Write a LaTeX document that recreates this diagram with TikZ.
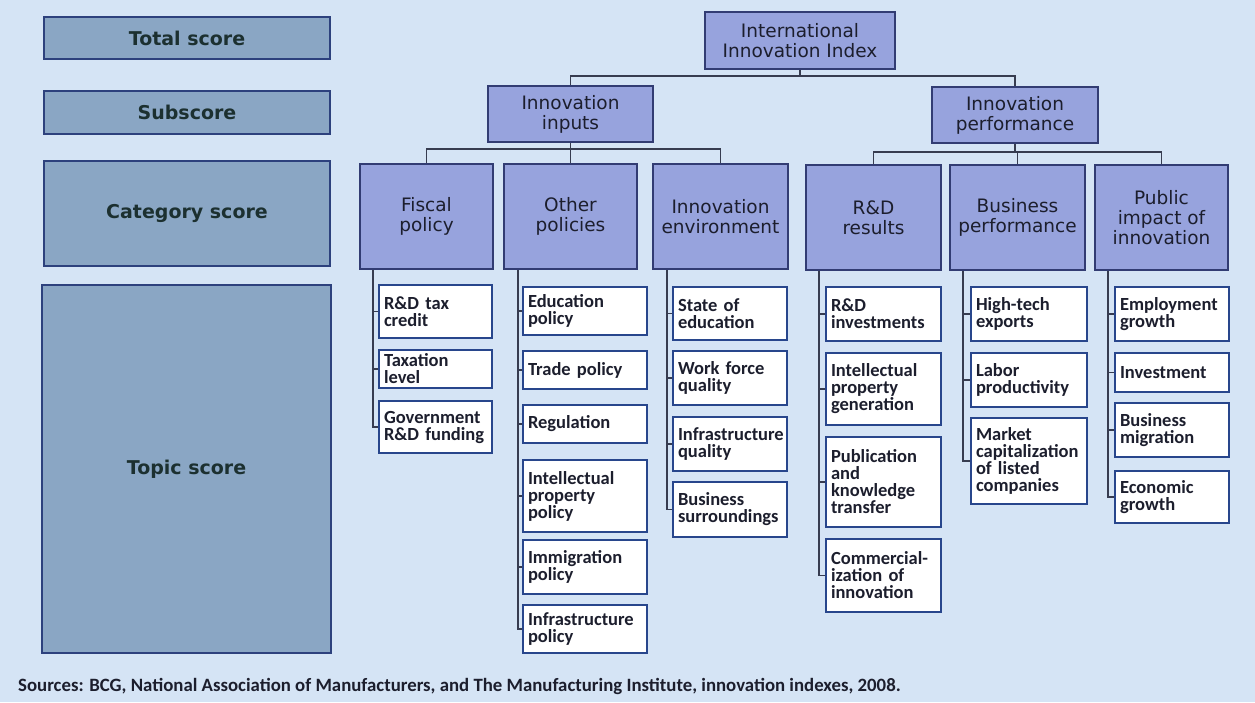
\documentclass[tikz,border=0pt]{standalone}
\usepackage{fontspec}
\setmainfont{DejaVu Sans}
\newfontfamily\carl{Carlito}
\definecolor{bgc}{RGB}{213,228,245}
\definecolor{catf}{RGB}{151,163,221}
\definecolor{catb}{RGB}{50,60,115}
\definecolor{legf}{RGB}{138,166,196}
\definecolor{legb}{RGB}{45,65,125}
\definecolor{tbord}{RGB}{40,70,140}
\definecolor{lnc}{RGB}{55,60,80}
\definecolor{txc}{RGB}{28,30,45}
\definecolor{legt}{RGB}{28,48,48}
\begin{document}
\begin{tikzpicture}[x=1pt,y=-1pt,
 leg/.style={draw=legb, fill=legf, line width=1.5pt, text=legt, font=\fontsize{19}{22}\selectfont\bfseries, inner sep=0pt},
 cat/.style={draw=catb, fill=catf, line width=1.6pt, text=txc, font=\fontsize{18.5}{20}\selectfont, align=center, inner sep=0pt},
 tb/.style 2 args={draw=tbord, fill=white, line width=1.6pt, text=txc, font=\carl\bfseries\fontsize{18.5}{17}\selectfont, text width=#1pt, minimum height=#2pt, inner xsep=5pt, inner ysep=0pt, align=left},
 conn/.style={draw=lnc, line width=1.6pt},
 tconn/.style={draw=lnc, line width=1.3pt}]
\fill[bgc] (0,0) rectangle (1255,702);
\useasboundingbox (0,0) rectangle (1255,702);
% legend
\node[leg, minimum width=286pt, minimum height=42pt] (ltot) at (187,38) {Total score};
\node[leg, minimum width=286pt, minimum height=43pt] (lsub) at (187,112.5) {Subscore};
\node[leg, minimum width=286pt, minimum height=105pt] (lcat) at (187,213.5) {Category score};
\node[leg, minimum width=289pt, minimum height=368pt] (ltop) at (186.5,469) {Topic score};
% top levels
\node[cat, minimum width=190pt, minimum height=57pt] (iii) at (800,40.5) {International\\Innovation Index};
\node[cat, minimum width=165pt, minimum height=56pt] (inp) at (570.5,114) {Innovation\\inputs};
\node[cat, minimum width=166pt, minimum height=56pt] (perf) at (1015,115) {Innovation\\performance};
% categories
\node[cat, minimum width=133pt, minimum height=105pt] (fis) at (426.5,216.5) {Fiscal\\policy};
\node[cat, minimum width=133pt, minimum height=105pt] (oth) at (570.5,216.5) {Other\\policies};
\node[cat, minimum width=135pt, minimum height=105pt] (env) at (720.5,216.5) {Innovation\\environment};
\node[cat, minimum width=135pt, minimum height=105pt] (rnd) at (873.5,217.5) {R\&D\\results};
\node[cat, minimum width=135pt, minimum height=105pt] (bus) at (1017.5,217.5) {Business\\performance};
\node[cat, minimum width=133pt, minimum height=105pt] (pub) at (1161.5,217.5) {Public\\impact of\\innovation};
% junctions
\coordinate (j1) at (800,76);
\coordinate (j2) at (570.5,149);
\coordinate (j3) at (1015,152);
\draw[conn] (iii.south) -- (j1);
\draw[conn] (inp.north) |- (j1) -| (perf.north);
\draw[conn] (inp.south) -- (j2);
\draw[conn] (fis.north) |- (j2) -| (env.north);
\draw[conn] (oth.north) -- (oth.north |- j2);
\draw[conn] (perf.south) -- (j3);
\draw[conn] (rnd.north) |- (j3) -| (pub.north);
\draw[conn] (bus.north) -- (bus.north |- j3);
% topics
\node[tb={103}{53}] (f1) at (435.5,311.5) {R\&D tax\\credit};
\node[tb={103}{38}] (f2) at (435.5,369) {Taxation\\level};
\node[tb={103}{52}] (f3) at (435.5,427) {Government\\R\&D funding};
\node[tb={114}{48}] (o1) at (585,311) {Education\\policy};
\node[tb={114}{38}] (o2) at (585,370) {Trade policy};
\node[tb={114}{38}] (o3) at (585,424) {Regulation};
\node[tb={114}{72}] (o4) at (585,496) {Intellectual\\property\\policy};
\node[tb={114}{54}] (o5) at (585,567) {Immigration\\policy};
\node[tb={114}{48}] (o6) at (585,629) {Infrastructure\\policy};
\node[tb={104}{53}] (e1) at (730,313.5) {State of\\education};
\node[tb={104}{54}] (e2) at (730,378) {Work force\\quality};
\node[tb={104}{54}] (e3) at (730,444) {Infrastructure\\quality};
\node[tb={104}{55}] (e4) at (730,509.5) {Business\\surroundings};
\node[tb={105}{54}] (r1) at (883.5,314) {R\&D\\investments};
\node[tb={105}{72}] (r2) at (883.5,389) {Intellectual\\property\\generation};
\node[tb={105}{90}] (r3) at (883.5,482) {Publication\\and\\knowledge\\transfer};
\node[tb={105}{73}] (r4) at (883.5,575.5) {Commercial-\\ization of\\innovation};
\node[tb={106}{54}] (b1) at (1029,314) {High-tech\\exports};
\node[tb={106}{54}] (b2) at (1029,380) {Labor\\productivity};
\node[tb={106}{86}] (b3) at (1029,461) {Market\\capitalization\\of listed\\companies};
\node[tb={104}{54}] (p1) at (1172,314) {Employment\\growth};
\node[tb={104}{39}] (p2) at (1172,372.5) {Investment};
\node[tb={104}{54}] (p3) at (1172,430) {Business\\migration};
\node[tb={104}{52}] (p4) at (1172,497) {Economic\\growth};
% topic connectors
\coordinate (fv) at (373,0);
\coordinate (ov) at (518,0);
\coordinate (ev) at (667,0);
\coordinate (rv) at (819,0);
\coordinate (bv) at (963,0);
\coordinate (pv) at (1108,0);
\draw[tconn] (fv |- fis.south) |- (f3.west);
\foreach \n in {f1,f2} \draw[tconn] (fv |- \n.west) -- (\n.west);
\draw[tconn] (ov |- oth.south) |- (o6.west);
\foreach \n in {o1,o2,o3,o4,o5} \draw[tconn] (ov |- \n.west) -- (\n.west);
\draw[tconn] (ev |- env.south) |- (e4.west);
\foreach \n in {e1,e2,e3} \draw[tconn] (ev |- \n.west) -- (\n.west);
\draw[tconn] (rv |- rnd.south) |- (r4.west);
\foreach \n in {r1,r2,r3} \draw[tconn] (rv |- \n.west) -- (\n.west);
\draw[tconn] (bv |- bus.south) |- (b3.west);
\foreach \n in {b1,b2} \draw[tconn] (bv |- \n.west) -- (\n.west);
\draw[tconn] (pv |- pub.south) |- (p4.west);
\foreach \n in {p1,p2,p3} \draw[tconn] (pv |- \n.west) -- (\n.west);
% source
\node[anchor=base west, inner sep=0pt, text=txc, font=\carl\bfseries\fontsize{18.8}{20}\selectfont] (src) at (18,691) {Sources: BCG, National Association of Manufacturers, and The Manufacturing Institute, innovation indexes, 2008.};
\end{tikzpicture}
\end{document}
